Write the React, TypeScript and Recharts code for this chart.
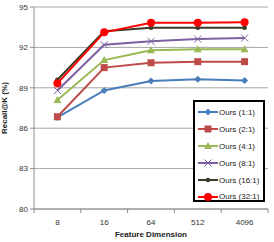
import React from "react";
import { LineChart, Line, XAxis, YAxis, CartesianGrid } from "recharts";

const categories = ["8", "16", "64", "512", "4096"];
const s1 = [86.8, 88.8, 89.5, 89.63, 89.55];
const s2 = [86.85, 90.5, 90.86, 90.94, 90.94];
const s4 = [88.1, 91.06, 91.78, 91.86, 91.86];
const s8 = [88.8, 92.2, 92.45, 92.62, 92.7];
const s16 = [89.6, 93.2, 93.46, 93.46, 93.46];
const s32 = [89.33, 93.12, 93.83, 93.83, 93.86];
const yTicks = [80, 83, 86, 89, 92, 95];

const seriesNames = ["Ours (1:1)", "Ours (2:1)", "Ours (4:1)", "Ours (8:1)", "Ours (16:1)", "Ours (32:1)"];
const seriesKeys = ["s1", "s2", "s4", "s8", "s16", "s32"];
const seriesColors = ["#4A7EBB", "#BE4B48", "#98B954", "#7D60A0", "#3B3B2A", "#FF0000"];
const seriesMarkers = ["diamond", "square", "triangle", "star", "dot", "circle"];

const data = categories.map((c, i) => ({
  cat: c,
  s1: s1[i],
  s2: s2[i],
  s4: s4[i],
  s8: s8[i],
  s16: s16[i],
  s32: s32[i],
}));

const FONT = "'Liberation Sans', Arial, sans-serif";

function Marker({ type, cx, cy, color }: { type: string; cx: number; cy: number; color: string }) {
  if (cx == null || cy == null) return null;
  switch (type) {
    case "diamond":
      return <polygon points={`${cx},${cy - 3.5} ${cx + 3.5},${cy} ${cx},${cy + 3.5} ${cx - 3.5},${cy}`} fill={color} />;
    case "square":
      return <rect x={cx - 3.5} y={cy - 3.5} width={7} height={7} fill={color} />;
    case "triangle":
      return <polygon points={`${cx},${cy - 4} ${cx + 4},${cy + 3} ${cx - 4},${cy + 3}`} fill={color} />;
    case "star":
      return (
        <g stroke={color} strokeWidth={1}>
          <line x1={cx - 3.5} y1={cy - 3.5} x2={cx + 3.5} y2={cy + 3.5} />
          <line x1={cx - 3.5} y1={cy + 3.5} x2={cx + 3.5} y2={cy - 3.5} />
        </g>
      );
    case "dot":
      return <circle cx={cx} cy={cy} r={2.3} fill={color} />;
    case "circle":
      return <circle cx={cx} cy={cy} r={4} fill={color} />;
    default:
      return null;
  }
}

const makeDot = (type: string, color: string) => (props: any) => (
  <Marker key={`${type}-${props.index}`} type={type} cx={props.cx} cy={props.cy} color={color} />
);

const HALF = 23.4;

const XTick = (props: any) => {
  const { x, y, payload, index } = props;
  return (
    <g>
      <line x1={x - HALF} y1={y - 8} x2={x - HALF} y2={y - 4} stroke="#8C8C8C" />
      {index === categories.length - 1 && (
        <line x1={x + HALF} y1={y - 8} x2={x + HALF} y2={y - 4} stroke="#8C8C8C" />
      )}
      <text x={x} y={y + 8} textAnchor="middle" fontSize={8} fill="#333" fontFamily={FONT}>
        {payload.value}
      </text>
    </g>
  );
};

const LegendBox = () => (
  <div
    style={{
      position: "absolute",
      left: 193,
      top: 100,
      border: "2px solid #000",
      background: "#fff",
      width: 72,
      height: 102,
      boxSizing: "border-box",
      paddingTop: 2,
    }}
  >
    {seriesNames.map((n, i) => (
      <div key={n} style={{ display: "flex", alignItems: "center", height: 16.9 }}>
        <svg width={22} height={10} style={{ marginLeft: 2, flex: "none" }}>
          <line x1={1} y1={5} x2={21} y2={5} stroke={seriesColors[i]} strokeWidth={2} />
          <Marker type={seriesMarkers[i]} cx={11} cy={5} color={seriesColors[i]} />
        </svg>
        <span style={{ fontSize: 8, fontFamily: FONT, color: "#222", whiteSpace: "nowrap" }}>{n}</span>
      </div>
    ))}
  </div>
);

export default function App() {
  return (
    <div style={{ position: "fixed", left: 0, top: 0, width: 274, height: 242, background: "#fff" }}>
      <LineChart width={274} height={242} data={data} margin={{ top: 7, right: 6, bottom: 0, left: 0 }}>
        <CartesianGrid vertical={false} stroke="#A6A6A6" strokeWidth={1} />
        <XAxis
          dataKey="cat"
          height={33}
          tickLine={false}
          axisLine={{ stroke: "#8C8C8C" }}
          tick={<XTick />}
          interval={0}
          padding={{ left: HALF, right: HALF }}
          label={{
            value: "Feature Dimension",
            position: "insideBottom",
            offset: 5,
            fontSize: 8,
            fontWeight: "bold",
            fill: "#222",
            fontFamily: FONT,
          }}
        />
        <YAxis
          width={34}
          domain={[80, 95]}
          ticks={yTicks}
          interval={0}
          tickSize={4}
          tickLine={{ stroke: "#8C8C8C" }}
          axisLine={{ stroke: "#8C8C8C" }}
          tick={{ fontSize: 8, fill: "#333", fontFamily: FONT }}
          label={{
            value: "Recall@K (%)",
            angle: -90,
            position: "insideLeft",
            offset: 4,
            dy: 26,
            fontSize: 8,
            fontWeight: "bold",
            fill: "#222",
            fontFamily: FONT,
          }}
        />
        {seriesKeys.map((k, i) => (
          <Line
            key={k}
            type="linear"
            dataKey={k}
            name={seriesNames[i]}
            stroke={seriesColors[i]}
            strokeWidth={2}
            dot={makeDot(seriesMarkers[i], seriesColors[i])}
            activeDot={false}
            isAnimationActive={false}
          />
        ))}
      </LineChart>
      <LegendBox />
    </div>
  );
}
